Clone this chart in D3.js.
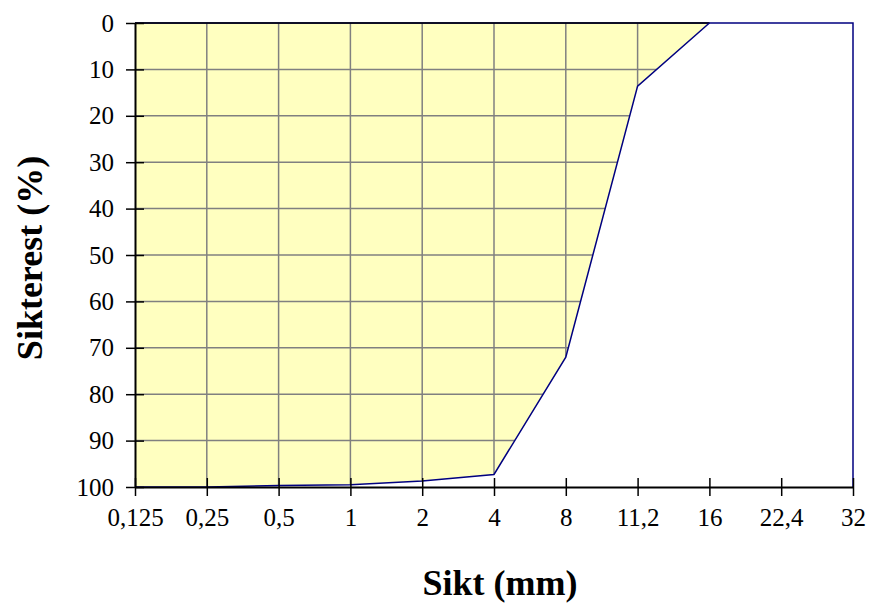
<!DOCTYPE html>
<html><head><meta charset="utf-8">
<script src="https://cdn.jsdelivr.net/npm/d3@7"></script>
<style>body{margin:0;background:#fff}svg{display:block}</style>
</head><body>
<svg id="c" width="874" height="606"></svg>
<script>
const sieves = ["0,125","0,25","0,5","1","2","4","8","11,2","16","22,4","32"];
const residue = [100, 100, 99.7, 99.5, 98.7, 97.3, 72, 13.6, 0, null, null];
const yTicks = [0,10,20,30,40,50,60,70,80,90,100];
const xTitle = "Sikt (mm)";
const yTitle = "Sikterest  (%)";

const svg = d3.select("#c");
const L = 135, R = 853, T = 23, B = 487;
const x = d3.scalePoint().domain(sieves).range([L, R]);
const y = d3.scaleLinear().domain([0, 100]).range([T, B]);
const font = "'Liberation Serif','Times New Roman',serif";

const data = sieves.map((s, i) => ({s, v: residue[i]})).filter(d => d.v != null);
const areaGen = d3.area().x(d => x(d.s)).y0(y(0)).y1(d => y(d.v));

svg.append("clipPath").attr("id", "ac").append("path").datum(data).attr("d", areaGen);

// area fill
svg.append("path").datum(data).attr("d", areaGen).attr("fill", "#ffffc0");

// grid (only visible inside area)
const g = svg.append("g").attr("clip-path", "url(#ac)");
g.selectAll("line.v").data(sieves.slice(1, -1)).join("line")
  .attr("x1", d => x(d)).attr("x2", d => x(d)).attr("y1", T).attr("y2", B)
  .attr("stroke", "#808080").attr("stroke-width", 1.5);
g.selectAll("line.h").data(yTicks.slice(1, -1)).join("line")
  .attr("x1", L).attr("x2", R).attr("y1", d => y(d)).attr("y2", d => y(d))
  .attr("stroke", "#808080").attr("stroke-width", 1.5);

// plot border (navy) top/right
svg.append("path").attr("d", `M${L},${T}H${R}V${B}`)
  .attr("fill", "none").attr("stroke", "#000080").attr("stroke-width", 1.5);
// top black edge of area
svg.append("line").attr("x1", L).attr("x2", x("16")).attr("y1", T).attr("y2", T)
  .attr("stroke", "#000").attr("stroke-width", 1.5);

// data line
svg.append("path").datum(data)
  .attr("d", d3.line().x(d => x(d.s)).y(d => y(d.v)))
  .attr("fill", "none").attr("stroke", "#000080").attr("stroke-width", 1.5);

// axes
const xAxis = d3.axisBottom(x).tickSizeInner(9).tickSizeOuter(0).tickPadding(12);
const xa = svg.append("g").attr("transform", `translate(0,${B})`).call(xAxis);
xa.selectAll(".tick line").attr("y1", -9).attr("stroke", "#000").attr("stroke-width", 1.5);
xa.select(".domain").attr("stroke", "#000").attr("stroke-width", 2);
xa.selectAll("text").attr("font-family", font).attr("font-size", 25).attr("fill", "#000");

const yAxis = d3.axisLeft(y).tickValues(yTicks).tickSizeInner(9).tickSizeOuter(0).tickPadding(12);
const ya = svg.append("g").attr("transform", `translate(${L},0)`).call(yAxis);
ya.selectAll(".tick line").attr("x1", 9).attr("stroke", "#000").attr("stroke-width", 1.5);
ya.select(".domain").attr("stroke", "#000").attr("stroke-width", 2);
ya.selectAll("text").attr("font-family", font).attr("font-size", 25).attr("fill", "#000");

// titles
svg.append("text").attr("x", 500).attr("y", 595).attr("text-anchor", "middle")
  .attr("font-family", font).attr("font-weight", "bold").attr("font-size", 36).text(xTitle);
svg.append("text").attr("transform", `translate(42,258) rotate(-90)`)
  .attr("text-anchor", "middle")
  .attr("font-family", font).attr("font-weight", "bold").attr("font-size", 36).text(yTitle);
</script>
</body></html>
